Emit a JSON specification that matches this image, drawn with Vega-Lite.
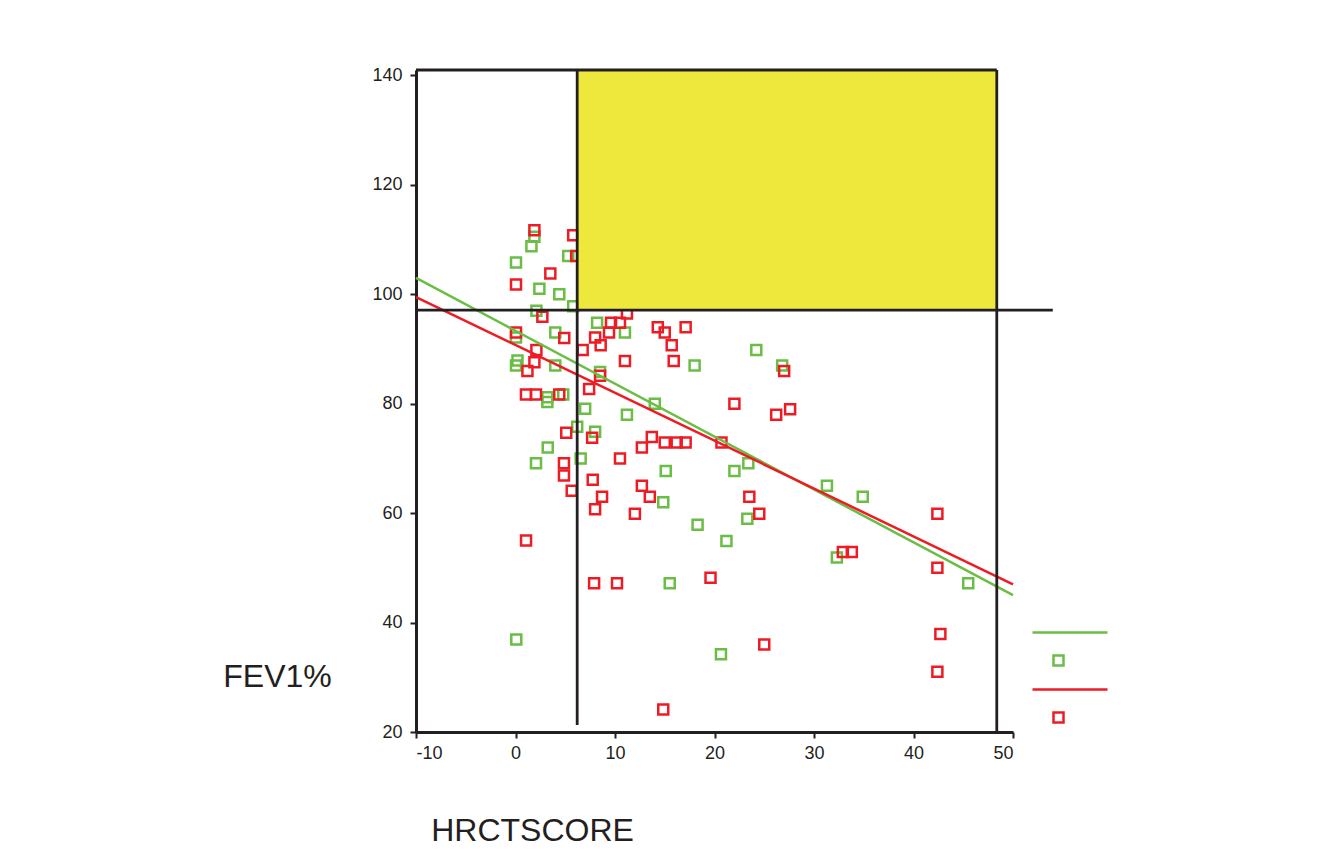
{
  "$schema": "https://vega.github.io/schema/vega-lite/v6.json",
  "width": 597,
  "height": 662,
  "autosize": {"type": "none"},
  "padding": {"left": 416, "top": 70, "right": 321, "bottom": 127},
  "background": "white",
  "config": {
    "view": {"stroke": null},
    "font": "Liberation Sans",
    "axis": {
      "grid": false,
      "domainColor": "#231f20",
      "domainWidth": 3,
      "tickColor": "#231f20",
      "tickWidth": 2,
      "tickSize": 6,
      "labelFont": "Liberation Sans",
      "labelFontSize": 18,
      "labelColor": "#231f20",
      "titleFont": "Liberation Sans",
      "titleFontSize": 32,
      "titleFontWeight": "normal",
      "titleColor": "#231f20"
    }
  },
  "datasets": {
    "pts": [
      {"hrct": 1.6, "fev1": 108.8, "series": "g_obs"},
      {"hrct": 1.9, "fev1": 110.5, "series": "g_obs"},
      {"hrct": 5.3, "fev1": 107.0, "series": "g_obs"},
      {"hrct": 0.05, "fev1": 105.8, "series": "g_obs"},
      {"hrct": 2.4, "fev1": 101.0, "series": "g_obs"},
      {"hrct": 4.4, "fev1": 100.0, "series": "g_obs"},
      {"hrct": 5.8, "fev1": 97.8, "series": "g_obs"},
      {"hrct": 2.1, "fev1": 97.0, "series": "g_obs"},
      {"hrct": 4.0, "fev1": 93.0, "series": "g_obs"},
      {"hrct": 0.05, "fev1": 92.1, "series": "g_obs"},
      {"hrct": 0.2, "fev1": 87.9, "series": "g_obs"},
      {"hrct": 0.05, "fev1": 87.0, "series": "g_obs"},
      {"hrct": 4.0, "fev1": 87.0, "series": "g_obs"},
      {"hrct": 8.5, "fev1": 85.8, "series": "g_obs"},
      {"hrct": 4.8, "fev1": 81.7, "series": "g_obs"},
      {"hrct": 3.2, "fev1": 80.3, "series": "g_obs"},
      {"hrct": 3.2, "fev1": 81.2, "series": "g_obs"},
      {"hrct": 7.0, "fev1": 79.1, "series": "g_obs"},
      {"hrct": 8.2, "fev1": 94.8, "series": "g_obs"},
      {"hrct": 11.0, "fev1": 93.0, "series": "g_obs"},
      {"hrct": 18.0, "fev1": 87.0, "series": "g_obs"},
      {"hrct": 24.2, "fev1": 89.8, "series": "g_obs"},
      {"hrct": 14.0, "fev1": 80.0, "series": "g_obs"},
      {"hrct": 11.2, "fev1": 78.0, "series": "g_obs"},
      {"hrct": 6.2, "fev1": 75.8, "series": "g_obs"},
      {"hrct": 8.0, "fev1": 74.9, "series": "g_obs"},
      {"hrct": 6.55, "fev1": 70.0, "series": "g_obs"},
      {"hrct": 15.1, "fev1": 67.7, "series": "g_obs"},
      {"hrct": 22.0, "fev1": 67.7, "series": "g_obs"},
      {"hrct": 23.4, "fev1": 69.1, "series": "g_obs"},
      {"hrct": 14.85, "fev1": 62.0, "series": "g_obs"},
      {"hrct": 23.3, "fev1": 59.0, "series": "g_obs"},
      {"hrct": 18.3, "fev1": 57.9, "series": "g_obs"},
      {"hrct": 21.2, "fev1": 54.9, "series": "g_obs"},
      {"hrct": 15.5, "fev1": 47.2, "series": "g_obs"},
      {"hrct": 20.65, "fev1": 34.2, "series": "g_obs"},
      {"hrct": 26.8, "fev1": 87.0, "series": "g_obs"},
      {"hrct": 31.3, "fev1": 65.0, "series": "g_obs"},
      {"hrct": 34.9, "fev1": 63.0, "series": "g_obs"},
      {"hrct": 32.3, "fev1": 51.9, "series": "g_obs"},
      {"hrct": 45.5, "fev1": 47.2, "series": "g_obs"},
      {"hrct": 0.08, "fev1": 36.9, "series": "g_obs"},
      {"hrct": 3.24, "fev1": 72.0, "series": "g_obs"},
      {"hrct": 2.06, "fev1": 69.1, "series": "g_obs"},
      {"hrct": 1.9, "fev1": 111.7, "series": "r_obs"},
      {"hrct": 5.8, "fev1": 110.8, "series": "r_obs"},
      {"hrct": 6.1, "fev1": 107.0, "series": "r_obs"},
      {"hrct": 3.5, "fev1": 103.8, "series": "r_obs"},
      {"hrct": 0.05, "fev1": 101.8, "series": "r_obs"},
      {"hrct": 2.7, "fev1": 95.9, "series": "r_obs"},
      {"hrct": 4.9, "fev1": 92.0, "series": "r_obs"},
      {"hrct": 0.05, "fev1": 93.0, "series": "r_obs"},
      {"hrct": 2.1, "fev1": 89.8, "series": "r_obs"},
      {"hrct": 1.9, "fev1": 87.6, "series": "r_obs"},
      {"hrct": 1.2, "fev1": 86.0, "series": "r_obs"},
      {"hrct": 6.75, "fev1": 89.8, "series": "r_obs"},
      {"hrct": 8.5, "fev1": 85.1, "series": "r_obs"},
      {"hrct": 7.4, "fev1": 82.7, "series": "r_obs"},
      {"hrct": 1.05, "fev1": 81.7, "series": "r_obs"},
      {"hrct": 2.06, "fev1": 81.7, "series": "r_obs"},
      {"hrct": 4.4, "fev1": 81.7, "series": "r_obs"},
      {"hrct": 11.2, "fev1": 96.5, "series": "r_obs"},
      {"hrct": 9.6, "fev1": 94.8, "series": "r_obs"},
      {"hrct": 10.5, "fev1": 94.8, "series": "r_obs"},
      {"hrct": 9.4, "fev1": 93.0, "series": "r_obs"},
      {"hrct": 14.3, "fev1": 94.0, "series": "r_obs"},
      {"hrct": 15.0, "fev1": 93.0, "series": "r_obs"},
      {"hrct": 17.1, "fev1": 94.0, "series": "r_obs"},
      {"hrct": 8.0, "fev1": 92.1, "series": "r_obs"},
      {"hrct": 8.56, "fev1": 90.7, "series": "r_obs"},
      {"hrct": 15.7, "fev1": 90.7, "series": "r_obs"},
      {"hrct": 11.0, "fev1": 87.8, "series": "r_obs"},
      {"hrct": 15.9, "fev1": 87.8, "series": "r_obs"},
      {"hrct": 22.0, "fev1": 80.0, "series": "r_obs"},
      {"hrct": 7.7, "fev1": 73.8, "series": "r_obs"},
      {"hrct": 5.1, "fev1": 74.7, "series": "r_obs"},
      {"hrct": 13.7, "fev1": 73.9, "series": "r_obs"},
      {"hrct": 12.7, "fev1": 72.0, "series": "r_obs"},
      {"hrct": 15.0, "fev1": 72.9, "series": "r_obs"},
      {"hrct": 16.2, "fev1": 72.9, "series": "r_obs"},
      {"hrct": 17.1, "fev1": 72.9, "series": "r_obs"},
      {"hrct": 20.7, "fev1": 72.9, "series": "r_obs"},
      {"hrct": 10.5, "fev1": 70.0, "series": "r_obs"},
      {"hrct": 4.87, "fev1": 69.1, "series": "r_obs"},
      {"hrct": 4.87, "fev1": 66.9, "series": "r_obs"},
      {"hrct": 7.76, "fev1": 66.1, "series": "r_obs"},
      {"hrct": 12.7, "fev1": 65.0, "series": "r_obs"},
      {"hrct": 5.65, "fev1": 64.1, "series": "r_obs"},
      {"hrct": 8.7, "fev1": 63.0, "series": "r_obs"},
      {"hrct": 13.5, "fev1": 63.0, "series": "r_obs"},
      {"hrct": 23.5, "fev1": 63.0, "series": "r_obs"},
      {"hrct": 8.0, "fev1": 60.7, "series": "r_obs"},
      {"hrct": 12.0, "fev1": 59.9, "series": "r_obs"},
      {"hrct": 24.5, "fev1": 59.9, "series": "r_obs"},
      {"hrct": 7.9, "fev1": 47.2, "series": "r_obs"},
      {"hrct": 10.2, "fev1": 47.2, "series": "r_obs"},
      {"hrct": 19.6, "fev1": 48.2, "series": "r_obs"},
      {"hrct": 14.85, "fev1": 24.1, "series": "r_obs"},
      {"hrct": 25.0, "fev1": 36.0, "series": "r_obs"},
      {"hrct": 27.0, "fev1": 86.0, "series": "r_obs"},
      {"hrct": 26.2, "fev1": 78.0, "series": "r_obs"},
      {"hrct": 27.6, "fev1": 79.0, "series": "r_obs"},
      {"hrct": 42.4, "fev1": 59.9, "series": "r_obs"},
      {"hrct": 32.9, "fev1": 52.9, "series": "r_obs"},
      {"hrct": 33.8, "fev1": 52.9, "series": "r_obs"},
      {"hrct": 42.4, "fev1": 50.0, "series": "r_obs"},
      {"hrct": 42.7, "fev1": 37.9, "series": "r_obs"},
      {"hrct": 42.4, "fev1": 31.0, "series": "r_obs"},
      {"hrct": 1.06, "fev1": 55.0, "series": "r_obs"}
    ],
    "fits": [
      {"hrct": -10, "fev1": 103.0, "series": "g_fit"},
      {"hrct": 50, "fev1": 45.0, "series": "g_fit"},
      {"hrct": -10, "fev1": 99.5, "series": "r_fit"},
      {"hrct": 50, "fev1": 47.0, "series": "r_fit"}
    ],
    "zone": [
      {"x": 6.3, "x2": 48.37, "y": 97.1, "y2": 141}
    ],
    "refs": [
      {"x": 6.2, "x2": 6.2, "y": 21.3, "y2": 141},
      {"x": 48.37, "x2": 48.37, "y": 20, "y2": 141},
      {"x": -10, "x2": 54, "y": 97.1, "y2": 97.1},
      {"x": -10, "x2": 48.37, "y": 141, "y2": 141}
    ]
  },
  "layer": [
    {
      "data": {"name": "pts"},
      "mark": {"type": "point", "filled": false, "strokeWidth": 2.5, "opacity": 1, "size": 100},
      "encoding": {
        "x": {
          "field": "hrct", "type": "quantitative",
          "scale": {"domain": [-10, 50], "nice": false, "zero": false},
          "axis": {
            "values": [-10, 0, 10, 20, 30, 40, 50],
            "labelExpr": "'' + datum.value",
            "labelPadding": 6,
            "title": "HRCTSCORE",
            "titleX": 116,
            "titleY": 98,
            "titleAlign": "center",
            "titleBaseline": "middle"
          }
        },
        "y": {
          "field": "fev1", "type": "quantitative",
          "scale": {"domain": [20, 141], "nice": false, "zero": false},
          "axis": {
            "values": [20, 40, 60, 80, 100, 120, 140],
            "labelPadding": 8,
            "title": "FEV1%",
            "titleAngle": 0,
            "titleX": -139,
            "titleY": 606,
            "titleAlign": "center",
            "titleBaseline": "middle"
          }
        },
        "color": {
          "field": "series", "type": "nominal",
          "scale": {"domain": ["g_fit", "g_obs", "r_fit", "r_obs"], "range": ["#6abd45", "#6abd45", "#ed1c24", "#ed1c24"]},
          "legend": {
            "orient": "none", "legendX": 636, "legendY": 556,
            "title": null, "labelExpr": "''", "labelFontSize": 1,
            "symbolSize": 100, "symbolStrokeWidth": 2.5, "rowPadding": 12
          }
        },
        "shape": {
          "field": "series", "type": "nominal",
          "scale": {"domain": ["g_fit", "g_obs", "r_fit", "r_obs"], "range": ["M-5.2,0H9.8", "square", "M-5.2,0H9.8", "square"]},
          "legend": {
            "orient": "none", "legendX": 636, "legendY": 556,
            "title": null, "labelExpr": "''", "labelFontSize": 1,
            "symbolSize": 100, "symbolStrokeWidth": 2.5, "rowPadding": 12
          }
        }
      }
    },
    {
      "data": {"name": "fits"},
      "mark": {"type": "line", "strokeWidth": 2.5},
      "encoding": {
        "x": {"field": "hrct", "type": "quantitative"},
        "y": {"field": "fev1", "type": "quantitative"},
        "color": {"field": "series", "type": "nominal"}
      }
    },
    {
      "data": {"name": "zone"},
      "mark": {"type": "rect", "color": "#eee83c", "opacity": 1},
      "encoding": {
        "x": {"field": "x", "type": "quantitative"},
        "x2": {"field": "x2"},
        "y": {"field": "y", "type": "quantitative"},
        "y2": {"field": "y2"}
      }
    },
    {
      "data": {"name": "refs"},
      "mark": {"type": "rule", "color": "#231f20", "strokeWidth": 2.8},
      "encoding": {
        "x": {"field": "x", "type": "quantitative"},
        "x2": {"field": "x2"},
        "y": {"field": "y", "type": "quantitative"},
        "y2": {"field": "y2"}
      }
    }
  ]
}
